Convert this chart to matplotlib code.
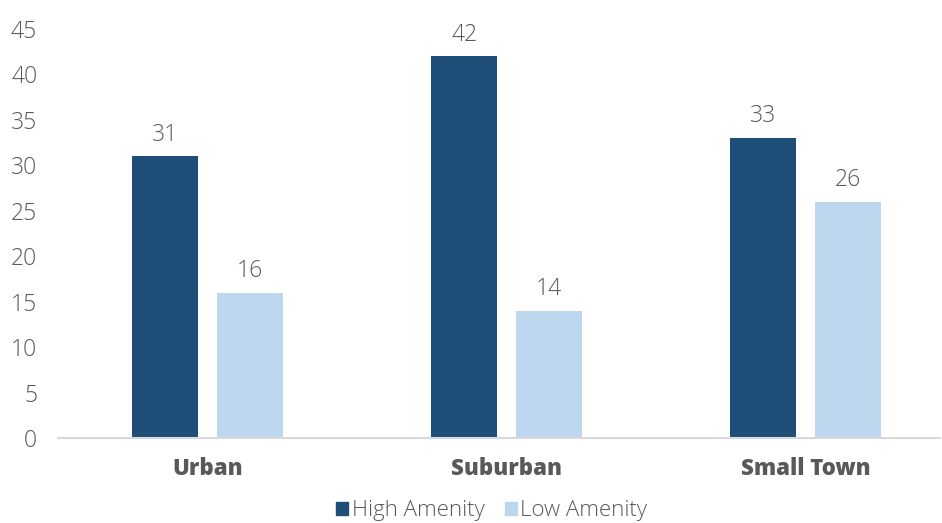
import numpy as np
import matplotlib.pyplot as plt
from matplotlib.patches import Patch

categories = ["Urban", "Suburban", "Small Town"]
high_amenity = [31, 42, 33]
low_amenity = [16, 14, 26]
series_names = ["High Amenity", "Low Amenity"]

DARK = "#1f4e79"
LIGHT = "#bdd7ee"
TEXT = "#595959"

plt.rcParams["font.family"] = ["Open Sans", "DejaVu Sans"]

fig = plt.figure(figsize=(9.42, 5.23), dpi=100)
ax = fig.add_axes([0.0616, 0.1625, 0.9364, 0.782])

x = np.arange(len(categories))
w = 0.221
off = 0.141
b1 = ax.bar(x - off, high_amenity, w, color=DARK)
b2 = ax.bar(x + off, low_amenity, w, color=LIGHT)

# value labels above each bar
for bars in (b1, b2):
    for rect in bars:
        h = rect.get_height()
        ax.annotate(f"{h:.0f}", (rect.get_x() + rect.get_width() / 2, h),
                    xytext=(0, 7), textcoords="offset points",
                    ha="center", va="bottom", fontsize=16.5,
                    fontweight="light", color=TEXT)

ax.set_xlim(-0.5, 2.45)
ax.set_ylim(0, 45)
ax.set_yticks(range(0, 46, 5))
ax.set_xticks(x)
ax.set_xticklabels(categories, fontsize=16, fontweight="heavy", color=TEXT)
for lbl in ax.get_yticklabels():
    lbl.set_fontsize(16.5)
    lbl.set_fontweight("light")
    lbl.set_color(TEXT)

ax.tick_params(axis="y", length=0, pad=15)
ax.tick_params(axis="x", length=0, pad=14)
for side in ("top", "right", "left"):
    ax.spines[side].set_visible(False)
ax.spines["bottom"].set_color("#d9d9d9")
ax.spines["bottom"].set_linewidth(1.5)

handles = [Patch(color=DARK), Patch(color=LIGHT)]
leg = fig.legend(handles, series_names, loc="center", bbox_to_anchor=(0.522, 0.023),
                 ncol=2, frameon=False, handlelength=0.55, handleheight=0.55,
                 handletextpad=0.15, columnspacing=0.9,
                 prop={"size": 16, "weight": "light"})
for t in leg.get_texts():
    t.set_color(TEXT)

fig.savefig("out.png", dpi=100)
